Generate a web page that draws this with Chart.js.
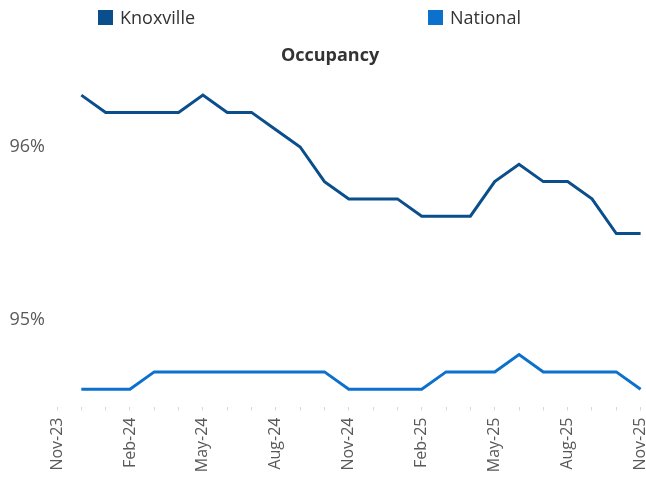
<!DOCTYPE html>
<html>
<head>
<meta charset="utf-8">
<script src="https://cdn.jsdelivr.net/npm/chart.js@4.4.1/dist/chart.umd.min.js"></script>
<style>
  body { margin: 0; background: #fff; }
  #wrap { position: relative; width: 646px; height: 480px; }
  #legend { position: absolute; top: 0; left: 0; width: 646px; height: 36px; font-family: 'Open Sans', sans-serif; font-size: 18px; color: #333; }
  .item { position: absolute; top: 5px; display: flex; align-items: center; }
  .box { width: 15px; height: 15px; margin-right: 7px; }
</style>
</head>
<body>
<div id="wrap">
  <canvas id="chart" width="646" height="480"></canvas>
  <div id="legend"></div>
</div>
<script>
// Monthly occupancy, Nov-23 .. Nov-25 (Nov-23 slot is empty on the chart)
const months = ['Nov-23', 'Dec-23', 'Jan-24', 'Feb-24', 'Mar-24', 'Apr-24', 'May-24', 'Jun-24', 'Jul-24',
  'Aug-24', 'Sep-24', 'Oct-24', 'Nov-24', 'Dec-24', 'Jan-25', 'Feb-25', 'Mar-25', 'Apr-25', 'May-25',
  'Jun-25', 'Jul-25', 'Aug-25', 'Sep-25', 'Oct-25', 'Nov-25'];
const knoxville = [null, 96.3, 96.2, 96.2, 96.2, 96.2, 96.3, 96.2, 96.2, 96.1, 96.0, 95.8, 95.7,
  95.7, 95.7, 95.6, 95.6, 95.6, 95.8, 95.9, 95.8, 95.8, 95.7, 95.5, 95.5];
const national = [null, 94.6, 94.6, 94.6, 94.7, 94.7, 94.7, 94.7, 94.7, 94.7, 94.7, 94.7, 94.6,
  94.6, 94.6, 94.6, 94.7, 94.7, 94.7, 94.8, 94.7, 94.7, 94.7, 94.7, 94.6];
const yTicks = [95, 96];

const colors = { knoxville: '#0b4e8c', national: '#0b71cc' };

const datasets = [
  { label: 'Knoxville', data: knoxville, borderColor: colors.knoxville, backgroundColor: colors.knoxville },
  { label: 'National', data: national, borderColor: colors.national, backgroundColor: colors.national }
].map(d => Object.assign(d, { borderWidth: 3, pointRadius: 0, tension: 0, fill: false }));

// legend spread across the top like the original
const legend = document.getElementById('legend');
const legendX = [98, 428];
datasets.forEach((d, i) => {
  const el = document.createElement('div');
  el.className = 'item';
  el.style.left = legendX[i] + 'px';
  el.innerHTML = '<span class="box" style="background:' + d.borderColor + '"></span>' + d.label;
  legend.appendChild(el);
});

new Chart(document.getElementById('chart'), {
  type: 'line',
  data: { labels: months, datasets: datasets },
  options: {
    responsive: false,
    animation: false,
    layout: { padding: 0 },
    plugins: {
      legend: { display: false },
      tooltip: { enabled: false },
      title: {
        display: true,
        text: '   Occupancy',
        color: '#333',
        font: { family: 'Open Sans', size: 18, weight: 'bold', lineHeight: 1 },
        padding: { top: 47, bottom: 0 }
      }
    },
    scales: {
      x: {
        border: { display: false },
        grid: { drawOnChartArea: false, color: '#d9d9d9', tickLength: 4 },
        ticks: {
          autoSkip: false,
          minRotation: 90,
          maxRotation: 90,
          padding: 7,
          color: '#595959',
          font: { family: 'Open Sans', size: 16 },
          callback: function (v, i) { return i % 3 === 0 ? months[i] : ''; }
        },
        afterFit: function (s) {
          s.height = 73.5;
          s.paddingLeft = 0;
          s.paddingRight = 5.4;
        }
      },
      y: {
        min: 94.5,
        max: 96.474,
        border: { display: false },
        grid: { display: false },
        afterBuildTicks: function (s) { s.ticks = yTicks.map(v => ({ value: v })); },
        ticks: {
          color: '#595959',
          font: { family: 'Open Sans', size: 18 },
          padding: 4,
          callback: function (v) { return v + '%'; }
        },
        afterFit: function (s) { s.width = 57; }
      }
    }
  }
});
</script>
</body>
</html>
